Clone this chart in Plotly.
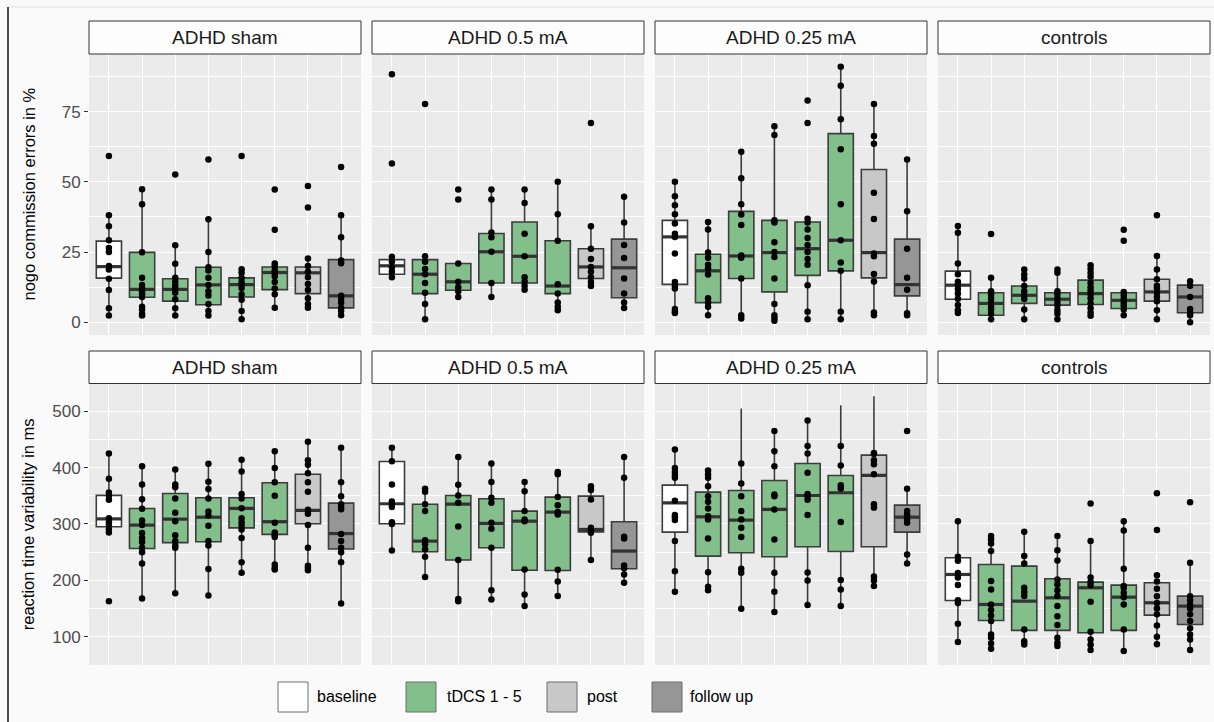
import plotly.graph_objects as go

# ---------------- data ----------------
CATEGORIES = ["baseline", "tDCS 1", "tDCS 2", "tDCS 3", "tDCS 4", "tDCS 5", "post", "follow up"]
GROUPS = ["ADHD sham", "ADHD 0.5 mA", "ADHD 0.25 mA", "controls"]
LEGEND_LABELS = ["baseline", "tDCS 1 - 5", "post", "follow up"]
Y_TITLES = ["nogo commission errors in %", "reaction time variability in ms"]
ERR_TICKS = [0, 25, 50, 75]
RT_TICKS = [100, 200, 300, 400, 500]

# box statistics per category: (lower whisker, q1, median, q3, upper whisker)
ERR_SHAM_STATS = [(2.4, 15.7, 19.8, 28.9, 38.1), (2.4, 8.9, 11.7, 24.9, 47.4), (2.4, 7.5, 11.7, 15.5, 27.4),
                  (2.4, 6.2, 13.3, 19.6, 36.7), (1.1, 9.0, 13.4, 15.8, 18.9), (5.2, 11.6, 17.7, 19.7, 20.9),
                  (5.2, 10.2, 17.6, 19.7, 22.7), (2.5, 5.1, 9.4, 22.3, 38.1)]
ERR_SHAM_POINTS = [[59.2, 38.1, 34.2, 29.2, 26.4, 25.0, 20.0, 18.8, 15.5, 11.5, 5.0, 2.4],
                   [47.4, 42.0, 24.9, 15.8, 13.3, 12.0, 11.0, 10.0, 9.0, 5.5, 4.5, 3.0, 2.4],
                   [52.6, 27.4, 20.8, 15.8, 14.3, 13.0, 11.8, 10.5, 8.2, 5.0, 2.4],
                   [58.0, 36.7, 25.0, 19.6, 18.4, 15.8, 13.3, 11.0, 9.5, 6.5, 4.0, 2.4],
                   [59.2, 18.9, 17.6, 15.8, 14.3, 13.4, 12.2, 10.0, 8.0, 4.0, 1.1],
                   [47.3, 32.9, 20.9, 20.0, 18.5, 17.6, 16.4, 14.3, 12.0, 10.0, 5.2],
                   [48.5, 40.9, 22.7, 20.0, 18.0, 16.0, 13.6, 11.5, 8.5, 6.5, 5.2],
                   [55.3, 38.1, 30.3, 22.0, 21.0, 9.4, 8.3, 7.0, 5.2, 4.0, 2.5]]

ERR_05_STATS = [(16.0, 17.1, 20.1, 22.3, 23.3), (1.1, 10.2, 17.1, 22.3, 23.5), (9.0, 11.4, 14.4, 20.9, 20.9),
                (9.0, 14.0, 25.1, 31.6, 47.3), (11.6, 14.0, 23.5, 35.7, 47.3), (4.3, 10.2, 12.9, 29.0, 50.0),
                (12.9, 15.6, 19.7, 26.2, 34.2), (5.1, 8.7, 19.4, 29.6, 44.7)]
ERR_05_POINTS = [[88.3, 56.5, 23.3, 21.5, 19.5, 18.0, 16.0],
                 [77.7, 23.5, 21.5, 19.0, 17.1, 14.0, 10.5, 6.5, 1.1],
                 [47.3, 43.7, 20.9, 14.4, 12.5, 11.0, 9.0],
                 [47.3, 43.7, 32.0, 30.3, 25.1, 14.0, 9.0],
                 [47.3, 42.5, 31.5, 23.5, 16.0, 14.5, 13.0, 11.6],
                 [50.0, 38.5, 29.0, 13.5, 10.2, 7.0, 5.5, 4.3],
                 [71.0, 34.2, 26.2, 22.5, 19.7, 18.0, 16.0, 14.3, 12.9],
                 [44.7, 35.5, 27.5, 22.9, 15.6, 10.2, 7.0, 5.1]]

ERR_025_STATS = [(3.3, 13.5, 30.4, 36.3, 50.0), (2.5, 7.0, 18.3, 24.2, 35.7), (1.3, 15.6, 23.6, 39.5, 60.7),
                 (0.5, 10.8, 24.8, 36.3, 69.8), (1.1, 16.7, 26.2, 35.7, 36.9), (1.1, 18.3, 29.2, 67.2, 91.0),
                 (2.5, 15.8, 24.8, 54.4, 77.7), (2.5, 9.4, 13.4, 29.6, 58.0)]
ERR_025_POINTS = [[50.0, 44.9, 41.7, 38.5, 35.2, 31.5, 30.4, 24.5, 14.3, 13.0, 12.0, 4.7, 3.7, 3.3],
                  [35.7, 33.0, 24.8, 23.0, 20.5, 19.1, 17.0, 8.5, 7.0, 5.5, 2.5],
                  [60.7, 51.3, 42.0, 38.4, 34.6, 23.8, 23.0, 15.6, 2.5, 1.3],
                  [69.8, 66.7, 36.3, 35.5, 28.5, 25.0, 23.2, 15.6, 6.5, 2.5, 1.5, 0.5],
                  [79.0, 71.0, 36.9, 35.5, 33.0, 30.0, 27.5, 25.0, 22.5, 20.5, 13.2, 3.7, 1.1],
                  [91.0, 84.2, 72.3, 61.6, 42.0, 29.2, 21.3, 18.3, 3.7, 1.1],
                  [77.7, 66.3, 63.6, 46.1, 36.8, 24.5, 23.5, 17.2, 14.5, 3.5, 2.5],
                  [58.0, 39.5, 26.2, 15.8, 11.6, 3.2, 2.5]]

ERR_CTRL_STATS = [(3.3, 8.2, 13.2, 18.2, 34.3), (1.1, 2.5, 6.7, 10.5, 15.8), (1.1, 6.7, 9.6, 12.9, 18.8),
                  (1.1, 6.1, 8.2, 10.5, 18.8), (2.3, 6.3, 10.2, 15.0, 20.3), (2.5, 4.9, 7.8, 10.5, 10.8),
                  (1.1, 7.5, 10.8, 15.3, 23.6), (0.0, 3.4, 9.0, 13.2, 14.6)]
ERR_CTRL_POINTS = [[34.3, 31.9, 20.9, 17.1, 14.4, 13.2, 11.8, 10.2, 8.4, 6.1, 4.3, 3.3],
                   [31.4, 15.8, 11.0, 10.0, 8.5, 7.0, 5.5, 4.5, 3.0, 1.1],
                   [18.8, 17.0, 15.6, 12.9, 11.0, 9.6, 8.3, 4.5, 1.1],
                   [18.8, 17.6, 11.0, 10.0, 8.5, 7.0, 6.0, 4.3, 3.0, 1.1],
                   [20.3, 19.0, 17.5, 16.2, 14.0, 12.5, 11.2, 10.0, 8.5, 6.8, 5.0, 3.5, 2.3],
                   [32.9, 29.0, 10.8, 9.5, 8.3, 7.0, 6.0, 4.5, 2.5],
                   [38.1, 23.6, 18.8, 15.3, 13.0, 12.0, 10.5, 9.0, 7.5, 4.3, 1.1],
                   [14.6, 13.0, 9.0, 4.7, 3.3, 2.5, 0.0]]

RT_SHAM_STATS = [(285, 295, 309, 350.6, 425), (168, 256.6, 298, 327.5, 402.5), (177, 267, 308.6, 354, 396.6),
                 (173, 268.5, 312, 346.4, 406.7), (213.5, 293, 327.5, 346.4, 413.8), (219.4, 281.5, 304, 373, 429),
                 (218, 300.4, 324, 388, 445.7), (159, 255.5, 283, 337, 435)]
RT_SHAM_POINTS = [[425, 380, 356, 350, 343, 310, 303, 298, 290, 285, 163],
                  [402.5, 370, 344, 327, 306, 298, 284, 275, 268, 258, 250, 230, 168],
                  [396.6, 370, 365, 345, 320, 305, 280, 270, 262, 258, 177],
                  [406.7, 375, 362, 345, 322, 315, 297, 270, 262, 220, 173],
                  [413.8, 393, 353, 345, 328, 310, 303, 297, 290, 275, 232, 213.5],
                  [429, 399, 374, 350, 302, 285, 280, 277, 228, 222, 219.4],
                  [445.7, 413, 405, 390, 374, 357, 325, 318, 298, 258, 226, 222, 218],
                  [435, 374, 349, 335, 330, 326, 282, 270, 258, 250, 232, 159]]

RT_05_STATS = [(253, 300.3, 335.8, 410.8, 435), (205.8, 250.7, 269.6, 335, 362.3), (163.2, 236, 335, 350.5, 418.5),
               (166.2, 257.8, 301, 344.6, 407.2), (154.4, 218, 305, 322.8, 374.2), (172.1, 217.6, 321, 347.6, 391.9),
               (236, 286, 290.3, 349.3, 367), (195.7, 220.5, 252, 304, 418.5)]
RT_05_POINTS = [[435, 411, 370, 340, 335, 330, 303, 300, 253],
                [362.3, 357, 335, 323, 271, 264, 255, 242, 205.8],
                [418.5, 369.4, 350.5, 337.5, 295.6, 236, 167.2, 163.2],
                [407.2, 374.2, 346.4, 337.5, 302, 291.4, 257.8, 182.7, 166.2],
                [374.2, 358.2, 322.8, 308, 305, 219.4, 175, 154.4],
                [391.9, 388, 348, 333, 321, 317, 219, 198, 172.1],
                [367, 360, 343.4, 293.2, 289.1, 284.4, 236],
                [418.5, 381.8, 277.3, 274.3, 226.5, 221.7, 210.5, 195.7]]

RT_025_STATS = [(179.8, 285.5, 337.5, 368.8, 432), (182.7, 243, 312.7, 356.4, 394.8), (149.7, 248.9, 306.8, 359.4, 504.7),
                (143.8, 241.8, 325.7, 377, 464.6), (156.2, 259.5, 350.5, 407.2, 483.5), (154.4, 251.3, 355.3, 386, 510.6),
                (190, 259.5, 386, 422, 526.6), (230, 285.5, 312.1, 333.4, 362.3)]
RT_025_POINTS = [[432, 399, 392, 387, 382, 341, 316, 312, 307, 270, 216, 179.8],
                 [394.8, 387.7, 381.8, 367, 349.3, 339.3, 327.5, 313.9, 308, 274.3, 214.6, 188.6, 182.7],
                 [407.2, 371.8, 349.3, 322.8, 308, 293.2, 276.7, 220.5, 213.5, 149.7],
                 [464.6, 429.1, 402.5, 352.3, 349.3, 325.7, 272.5, 213.5, 179.8, 143.8],
                 [483.5, 438, 425, 391, 353, 349, 343, 316, 214, 200, 156.2],
                 [438, 403.7, 368.8, 362.9, 303.3, 200.5, 183.9, 154.4],
                 [426, 424, 413, 406, 388, 335, 329, 207, 200, 190],
                 [464.6, 362.3, 322.8, 316.9, 308, 302.1, 246, 230]]

RT_CTRL_STATS = [(90.6, 164.4, 210.5, 240, 305), (78.8, 129, 157.3, 228.2, 278.5), (86.4, 111.3, 163.2, 225.3, 286.1),
                 (83.5, 111.3, 169.1, 202.8, 278.5), (76.4, 107.1, 186.9, 196.9, 269.6), (74.6, 111.3, 170.3, 191.6, 305),
                 (87, 138.4, 160.3, 195.7, 209.3), (76.4, 121.9, 154.4, 172.1, 231.2)]
RT_CTRL_POINTS = [[305, 242, 235, 213, 205, 192, 165, 160, 123, 90.6],
                  [278.5, 272.5, 265.5, 251.9, 198.7, 183.9, 157.3, 147.3, 137.9, 127.9, 104.2, 98.3, 88.2, 78.8],
                  [286.1, 243, 230, 186.9, 179.2, 172.1, 113, 92.3, 86.4],
                  [278.5, 253.6, 235.3, 201.6, 192.7, 182.7, 172.1, 154.4, 136.6, 120.7, 98.3, 89.4, 83.5],
                  [336.3, 269.6, 205, 197, 192, 162, 109, 95, 86, 76.4],
                  [305, 288.5, 220.5, 190, 186.9, 178, 170.3, 157.3, 113, 74.6],
                  [354.6, 289.1, 209.3, 198, 185, 172, 160, 150, 140, 120, 100, 87],
                  [338.7, 231.2, 172, 165, 157, 150, 140, 128, 115, 104, 95, 76.4]]

# ---------------- style ----------------
W, H = 1214, 722
COLORS = ["#ffffff", "#82bf8b", "#82bf8b", "#82bf8b", "#82bf8b", "#82bf8b", "#c8c8c8", "#969696"]
LEGEND_COLORS = ["#ffffff", "#82bf8b", "#c8c8c8", "#969696"]
BOX_LINE = "#3d3d3d"
FONT = "Liberation Sans, Arial, sans-serif"
BOX_W = 0.76

PANEL_X = [(89, 361), (372, 644), (655, 927), (938, 1210)]
ROW_Y = [(54, 335), (383.5, 665)]
STRIP_Y = [(21, 54), (351, 383.5)]
Y_RANGES = [(-4.55, 95.55), (50, 549)]
Y_MINOR = [[12.5, 37.5, 62.5, 87.5], [150, 250, 350, 450]]

ROWS = [
    [(ERR_SHAM_STATS, ERR_SHAM_POINTS), (ERR_05_STATS, ERR_05_POINTS),
     (ERR_025_STATS, ERR_025_POINTS), (ERR_CTRL_STATS, ERR_CTRL_POINTS)],
    [(RT_SHAM_STATS, RT_SHAM_POINTS), (RT_05_STATS, RT_05_POINTS),
     (RT_025_STATS, RT_025_POINTS), (RT_CTRL_STATS, RT_CTRL_POINTS)],
]
TICKS = [ERR_TICKS, RT_TICKS]


def fx(x):
    return x / W


def fy(y):
    return 1 - y / H


fig = go.Figure()
shapes = []
annotations = []
layout_axes = {}

for r in range(2):
    for c in range(4):
        n = r * 4 + c + 1
        xa = "x" if n == 1 else f"x{n}"
        ya = "y" if n == 1 else f"y{n}"
        stats, points = ROWS[r][c]

        for i, (lo, q1, med, q3, hi) in enumerate(stats):
            fig.add_trace(go.Box(
                x=[i], q1=[q1], median=[med], q3=[q3], lowerfence=[lo], upperfence=[hi],
                orientation="v", width=BOX_W, whiskerwidth=0, boxpoints=False,
                fillcolor=COLORS[i], line=dict(color=BOX_LINE, width=1.6),
                xaxis=xa, yaxis=ya, showlegend=False, hoverinfo="skip"))

        mx, my = [], []
        for i, (lo, q1, med, q3, hi) in enumerate(stats):
            mx += [i - BOX_W / 2, i + BOX_W / 2, None]
            my += [med, med, None]
        fig.add_trace(go.Scatter(x=mx, y=my, mode="lines", line=dict(color="#333333", width=3.2),
                                 xaxis=xa, yaxis=ya, showlegend=False, hoverinfo="skip"))

        px, py = [], []
        for i, pts in enumerate(points):
            px += [i] * len(pts)
            py += list(pts)
        fig.add_trace(go.Scatter(x=px, y=py, mode="markers",
                                 marker=dict(color="black", size=6.5, line=dict(width=0)),
                                 xaxis=xa, yaxis=ya, showlegend=False, hoverinfo="skip"))

        x0, x1 = PANEL_X[c]
        y0, y1 = ROW_Y[r]
        layout_axes["xaxis" if n == 1 else f"xaxis{n}"] = dict(
            domain=[fx(x0), fx(x1)], anchor=ya, range=[-0.6, 7.6],
            tickvals=list(range(len(CATEGORIES))), showticklabels=False, ticks="",
            showgrid=True, gridcolor="white", gridwidth=1.2, zeroline=False, showline=False)
        first = c == 0
        layout_axes["yaxis" if n == 1 else f"yaxis{n}"] = dict(
            domain=[fy(y1), fy(y0)], anchor=xa, range=list(Y_RANGES[r]),
            tickvals=TICKS[r], showticklabels=first, ticks="outside" if first else "",
            ticklen=4, tickwidth=1.2, tickcolor="#333333",
            tickfont=dict(family=FONT, size=17, color="#4d4d4d"),
            showgrid=True, gridcolor="white", gridwidth=1.2, zeroline=False, showline=False,
            minor=dict(tickvals=Y_MINOR[r], showgrid=True, gridcolor="white", gridwidth=0.6, ticks=""))

        # facet strip
        s0, s1 = STRIP_Y[r]
        shapes.append(dict(type="rect", xref="paper", yref="paper",
                           x0=fx(x0), x1=fx(x1), y0=fy(s1), y1=fy(s0),
                           fillcolor="#fdfdfd", line=dict(color="#333333", width=1)))
        annotations.append(dict(text=GROUPS[c], xref="paper", yref="paper",
                                x=fx((x0 + x1) / 2), y=fy((s0 + s1) / 2),
                                showarrow=False, xanchor="center", yanchor="middle",
                                font=dict(family=FONT, size=19, color="#1a1a1a")))

    # y-axis title
    y0, y1 = ROW_Y[r]
    annotations.append(dict(text=Y_TITLES[r], xref="paper", yref="paper",
                            x=fx(28), y=fy((y0 + y1) / 2), textangle=-90,
                            showarrow=False, xanchor="center", yanchor="middle",
                            font=dict(family=FONT, size=16.5, color="black")))

# legend (drawn manually)
KEY_X = [278, 406, 547, 652]
TEXT_X = [315, 445, 585, 688]
for k, lab in enumerate(LEGEND_LABELS):
    shapes.append(dict(type="rect", xref="paper", yref="paper",
                       x0=fx(KEY_X[k]), x1=fx(KEY_X[k] + 30), y0=fy(712), y1=fy(682),
                       fillcolor=LEGEND_COLORS[k], line=dict(color="#6e6e6e", width=1)))
    annotations.append(dict(text=lab, xref="paper", yref="paper", x=fx(TEXT_X[k]), y=fy(696),
                            showarrow=False, xanchor="left", yanchor="middle",
                            font=dict(family=FONT, size=16, color="black")))

# outer frame lines
shapes.append(dict(type="line", xref="paper", yref="paper", x0=fx(8), x1=fx(W), y0=fy(7), y1=fy(7),
                   line=dict(color="#e2e2e2", width=1)))
shapes.append(dict(type="line", xref="paper", yref="paper", x0=fx(8), x1=fx(8), y0=fy(7), y1=0,
                   line=dict(color="#111111", width=1.5)))

fig.update_layout(
    width=W, height=H, autosize=False,
    margin=dict(l=0, r=0, t=0, b=0),
    paper_bgcolor="#fafafa", plot_bgcolor="#ebebeb",
    boxmode="overlay", showlegend=False,
    shapes=shapes, annotations=annotations,
    **layout_axes)

fig.write_html("out.html")
